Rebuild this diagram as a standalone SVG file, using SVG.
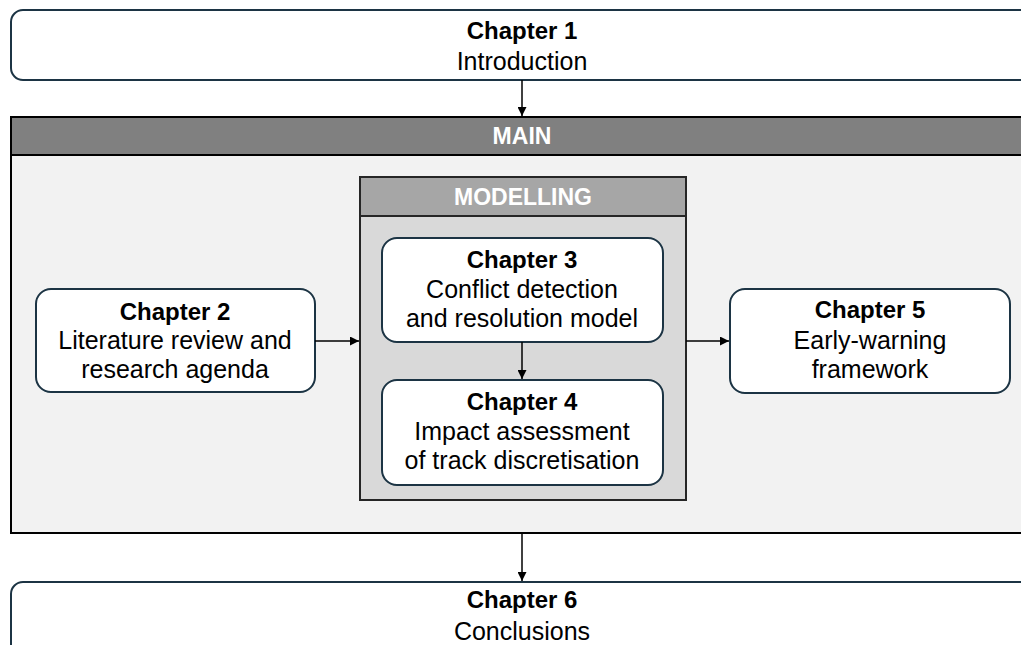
<svg xmlns="http://www.w3.org/2000/svg" width="1021" height="645" viewBox="0 0 1021 645">
<defs>
<marker id="ah" viewBox="0 0 10 10" refX="10" refY="5" markerWidth="9" markerHeight="9" markerUnits="userSpaceOnUse" orient="auto">
<path d="M0,0 L10,5 L0,10 z" fill="#000"/>
</marker>
<style>
.node{fill:#fff;stroke:#1c3444;stroke-width:2}
.t{font-family:"Liberation Sans",Arial,sans-serif;font-size:25px;fill:#000;text-anchor:middle}
.b{font-weight:bold;font-size:24px}
.h{font-family:"Liberation Sans",Arial,sans-serif;font-size:23px;font-weight:bold;fill:#fff;text-anchor:middle}
.c{stroke:#000;stroke-width:1.5;fill:none;marker-end:url(#ah)}
</style>
</defs>
<rect width="1021" height="645" fill="#fff"/>
<g id="main">
<rect x="11" y="117" width="1030" height="416" fill="#f2f2f2" stroke="#000" stroke-width="2"/>
<rect x="11" y="117" width="1030" height="38" fill="#808080" stroke="#000" stroke-width="2"/>
<text class="h" x="522" y="144">MAIN</text>
</g>
<g id="modelling">
<rect x="360" y="177" width="326" height="323" fill="#d9d9d9" stroke="#262626" stroke-width="2"/>
<rect x="360" y="177" width="326" height="39" fill="#a6a6a6" stroke="#262626" stroke-width="2"/>
<text class="h" x="523" y="205">MODELLING</text>
</g>
<g id="ch1">
<rect class="node" x="11" y="10" width="1040" height="70" rx="12"/>
<text class="t b" x="522" y="39">Chapter 1</text>
<text class="t" x="522" y="70">Introduction</text>
</g>
<g id="ch2">
<rect class="node" x="36" y="289" width="279" height="103" rx="15"/>
<text class="t b" x="175" y="320">Chapter 2</text>
<text class="t" x="175" y="349">Literature review and</text>
<text class="t" x="175" y="378">research agenda</text>
</g>
<g id="ch3">
<rect class="node" x="382" y="238" width="281" height="104" rx="15"/>
<text class="t b" x="522" y="268">Chapter 3</text>
<text class="t" x="522" y="298">Conflict detection</text>
<text class="t" x="522" y="327">and resolution model</text>
</g>
<g id="ch4">
<rect class="node" x="382" y="380" width="281" height="105" rx="15"/>
<text class="t b" x="522" y="410">Chapter 4</text>
<text class="t" x="522" y="440">Impact assessment</text>
<text class="t" x="522" y="469">of track discretisation</text>
</g>
<g id="ch5">
<rect class="node" x="730" y="289" width="280" height="104" rx="15"/>
<text class="t b" x="870" y="318">Chapter 5</text>
<text class="t" x="870" y="349">Early-warning</text>
<text class="t" x="870" y="378">framework</text>
</g>
<g id="ch6">
<rect class="node" x="11" y="582" width="1040" height="80" rx="12"/>
<text class="t b" x="522" y="608">Chapter 6</text>
<text class="t" x="522" y="640">Conclusions</text>
</g>
<g id="connectors">
<line class="c" x1="522" y1="80" x2="522" y2="116"/>
<line class="c" x1="315" y1="341" x2="359" y2="341"/>
<line class="c" x1="686" y1="341" x2="729" y2="341"/>
<line class="c" x1="522" y1="342" x2="522" y2="379"/>
<line class="c" x1="522" y1="533" x2="522" y2="581"/>
</g>
</svg>
